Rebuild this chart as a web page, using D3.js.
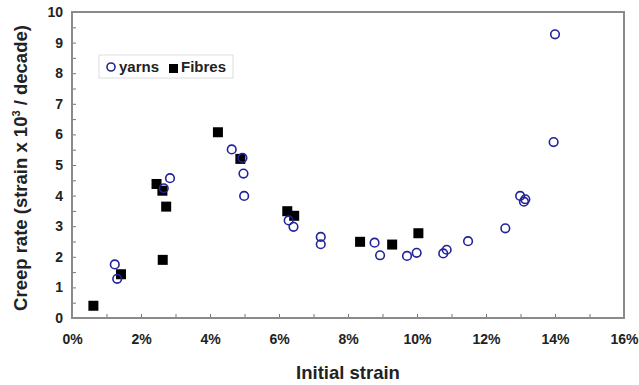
<!DOCTYPE html>
<html>
<head>
<meta charset="utf-8">
<script src="https://cdn.jsdelivr.net/npm/d3@7"></script>
<style>
  body { margin: 0; background: #fff; }
  text { font-family: "Liberation Sans", Arial, sans-serif; font-weight: bold; fill: #222; }
</style>
</head>
<body>
<script>
// initial strain (%) and creep rate (strain x 10^3 / decade)
const yarnsX = [1.24, 1.31, 2.66, 2.84, 4.63, 4.94, 4.97, 4.99, 6.28, 6.42, 7.21, 7.21, 8.77, 8.93, 9.71, 9.99, 10.76, 10.86, 11.48, 12.56, 12.99, 13.14, 13.10, 13.96, 14.0];
const yarnsY = [1.75, 1.28, 4.24, 4.57, 5.51, 5.23, 4.72, 3.99, 3.19, 2.98, 2.65, 2.41, 2.46, 2.05, 2.03, 2.13, 2.11, 2.23, 2.51, 2.93, 3.99, 3.88, 3.80, 5.75, 9.27];
const fibresX = [0.62, 1.42, 2.45, 2.62, 2.73, 2.63, 4.23, 4.88, 6.24, 6.44, 8.35, 9.28, 10.04];
const fibresY = [0.40, 1.43, 4.38, 4.16, 3.64, 1.90, 6.07, 5.20, 3.49, 3.34, 2.49, 2.40, 2.77];
const xTicks = [0, 2, 4, 6, 8, 10, 12, 14, 16];
const yTicks = [0, 1, 2, 3, 4, 5, 6, 7, 8, 9, 10];

const width = 639, height = 385;
const margin = {top: 12, right: 15, bottom: 67, left: 72};

const svg = d3.select('body').append('svg')
  .attr('width', width)
  .attr('height', height);

const x = d3.scaleLinear().domain([0, 16]).range([margin.left, width - margin.right]);
const y = d3.scaleLinear().domain([0, 10]).range([height - margin.bottom, margin.top]);

// minor ticks
svg.append('g')
  .attr('transform', `translate(0,${height - margin.bottom})`)
  .call(d3.axisBottom(x).tickValues(d3.range(0, 17, 1)).tickSize(-4).tickFormat(''))
  .call(g => g.select('.domain').remove())
  .selectAll('line').attr('stroke', '#777');
svg.append('g')
  .attr('transform', `translate(${margin.left},0)`)
  .call(d3.axisLeft(y).tickValues(d3.range(0, 10.01, 0.5)).tickSize(-4).tickFormat(''))
  .call(g => g.select('.domain').remove())
  .selectAll('line').attr('stroke', '#777');

// plot frame
svg.append('rect')
  .attr('x', margin.left)
  .attr('y', margin.top)
  .attr('width', width - margin.left - margin.right)
  .attr('height', height - margin.top - margin.bottom)
  .attr('fill', 'none')
  .attr('stroke', '#8a8a8a')
  .attr('stroke-width', 2);

// labels
const xAxis = svg.append('g')
  .attr('transform', `translate(0,${height - margin.bottom})`)
  .call(d3.axisBottom(x).tickValues(xTicks).tickSize(0).tickPadding(16).tickFormat(d => d + '%'));
xAxis.select('.domain').remove();
xAxis.selectAll('text').style('font-size', '14px');

const yAxis = svg.append('g')
  .attr('transform', `translate(${margin.left},0)`)
  .call(d3.axisLeft(y).tickValues(yTicks).tickSize(0).tickPadding(9));
yAxis.select('.domain').remove();
yAxis.selectAll('text').style('font-size', '14px');

svg.append('text')
  .attr('x', 348)
  .attr('y', 379)
  .attr('text-anchor', 'middle')
  .style('font-size', '18.5px')
  .text('Initial strain');

const yt = svg.append('text')
  .attr('transform', 'translate(27,168) rotate(-90)')
  .attr('text-anchor', 'middle')
  .style('font-size', '18.5px');
yt.append('tspan').text('Creep rate (strain x 10');
yt.append('tspan').attr('dy', -7).style('font-size', '11px').text('3');
yt.append('tspan').attr('dy', 7).text(' / decade)');

// data
const yarns = yarnsX.map((v, i) => [v, yarnsY[i]]);
const fibres = fibresX.map((v, i) => [v, fibresY[i]]);

svg.append('g').selectAll('rect')
  .data(fibres)
  .enter()
  .append('rect')
  .attr('x', d => x(d[0]) - 5)
  .attr('y', d => y(d[1]) - 5)
  .attr('width', 10)
  .attr('height', 10)
  .attr('fill', '#000');

svg.append('g').selectAll('circle')
  .data(yarns)
  .enter()
  .append('circle')
  .attr('cx', d => x(d[0]))
  .attr('cy', d => y(d[1]))
  .attr('r', 4.3)
  .attr('fill', 'none')
  .attr('stroke', '#22229a')
  .attr('stroke-width', 1.6);

// legend
const lg = svg.append('g').attr('transform', 'translate(99,55)');
lg.append('rect')
  .attr('width', 134).attr('height', 23)
  .attr('fill', '#fff').attr('stroke', '#ddd');
lg.append('circle')
  .attr('cx', 12).attr('cy', 12).attr('r', 4)
  .attr('fill', 'none').attr('stroke', '#22229a').attr('stroke-width', 1.6);
lg.append('text').attr('x', 20).attr('y', 17).style('font-size', '15px').text('yarns');
lg.append('rect')
  .attr('x', 70).attr('y', 9).attr('width', 9).attr('height', 9).attr('fill', '#000');
lg.append('text').attr('x', 82).attr('y', 17).style('font-size', '15px').text('Fibres');
</script>
</body>
</html>
